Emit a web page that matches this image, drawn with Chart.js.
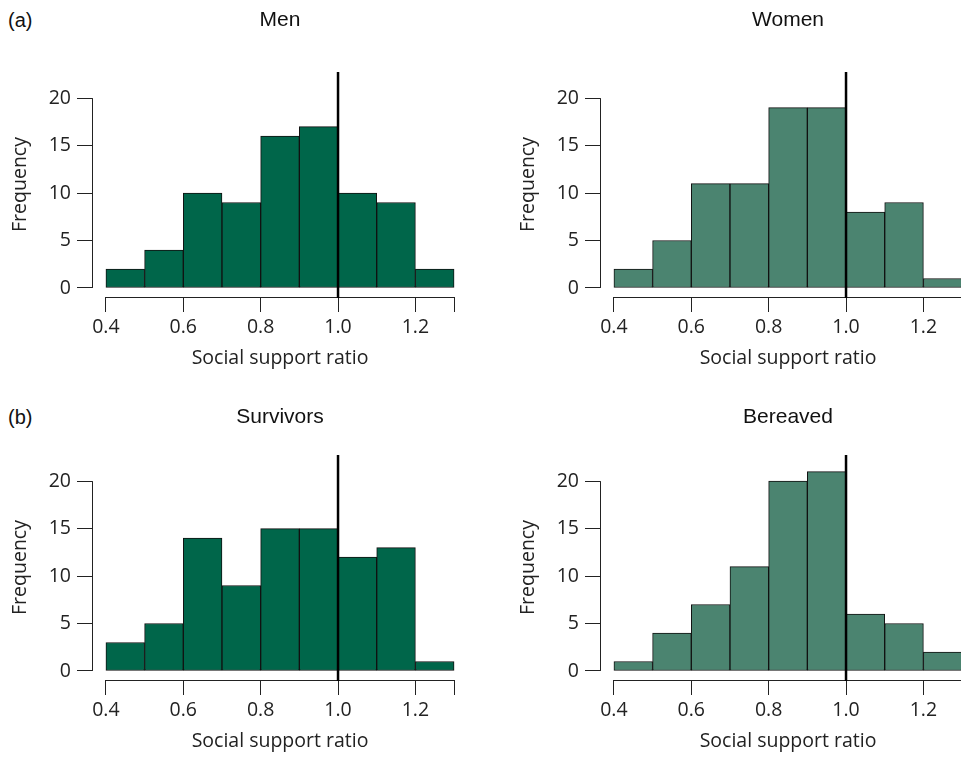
<!DOCTYPE html>
<html lang="en">
<head>
<meta charset="UTF-8">
<title>Social support ratio histograms</title>
<script src="https://cdn.jsdelivr.net/npm/chart.js"></script>
<style>
  html, body { margin: 0; padding: 0; background: #fff; overflow: hidden; }
  #page { position: relative; width: 961px; height: 760px; overflow: hidden; }
  .panel { position: absolute; width: 480px; height: 384px; }
  .tag { position: absolute; left: 8px; font: 20px "Liberation Sans", Arial, sans-serif; color: #111; line-height: 24px; }
</style>
</head>
<body>
<div id="page">
  <div class="tag" style="top:8px">(a)</div>
  <div class="tag" style="top:405px">(b)</div>
  <div class="panel" style="left:0;top:0"><canvas id="men" width="480" height="384"></canvas></div>
  <div class="panel" style="left:508px;top:0"><canvas id="women" width="480" height="384"></canvas></div>
  <div class="panel" style="left:0;top:383px"><canvas id="survivors" width="480" height="384"></canvas></div>
  <div class="panel" style="left:508px;top:383px"><canvas id="bereaved" width="480" height="384"></canvas></div>
</div>
<script>
// histogram bins (social support ratio), 0.1 wide
const binEdges = [0.4, 0.5, 0.6, 0.7, 0.8, 0.9, 1.0, 1.1, 1.2, 1.3];

// frequencies
const menCounts = [2, 4, 10, 9, 16, 17, 10, 9, 2];
const womenCounts = [2, 5, 11, 11, 19, 19, 8, 9, 1];
const survivorCounts = [3, 5, 14, 9, 15, 15, 12, 13, 1];
const bereavedCounts = [1, 4, 7, 11, 20, 21, 6, 5, 2];

// axes
const xTickValues = [0.4, 0.6, 0.8, 1.0, 1.2, 1.3];
const xTickLabels = ['0.4', '0.6', '0.8', '1.0', '1.2', ''];
const yTickValues = [0, 5, 10, 15, 20];
const refValue = 1.0;

const darkGreen = '#00664a';
const lightGreen = '#4b8470';
const ink = '#222';
const tickFont = { family: '"Open Sans", "DejaVu Sans", sans-serif', size: 19.5 };

// R-style detached axis lines + the vertical line at ratio 1.0
const rAxes = {
  id: 'rAxes',
  afterDatasetsDraw(chart) {
    const { ctx, chartArea, scales: { x, y } } = chart;
    ctx.save();
    ctx.strokeStyle = ink;
    ctx.lineWidth = 1;
    ctx.beginPath();
    const ax = Math.round(chartArea.left) + 0.5;
    ctx.moveTo(ax, y.getPixelForValue(yTickValues[0]));
    ctx.lineTo(ax, y.getPixelForValue(yTickValues[yTickValues.length - 1]));
    const ay = Math.round(chartArea.bottom) + 0.5;
    ctx.moveTo(x.getPixelForValue(binEdges[0]), ay);
    ctx.lineTo(x.getPixelForValue(binEdges[binEdges.length - 1]), ay);
    ctx.stroke();

    const rx = x.getPixelForValue(refValue);
    ctx.strokeStyle = '#000';
    ctx.lineWidth = 2.5;
    ctx.beginPath();
    ctx.moveTo(rx, chartArea.top);
    ctx.lineTo(rx, chartArea.bottom + 1);
    ctx.stroke();
    ctx.restore();
  }
};

function histogram(id, title, counts, color, titleTop) {
  const points = counts.map((c, i) => ({ x: (binEdges[i] + binEdges[i + 1]) / 2, y: c }));
  return new Chart(document.getElementById(id), {
    type: 'bar',
    data: {
      datasets: [{
        data: points,
        backgroundColor: color,
        borderColor: '#111',
        borderWidth: 1,
        borderSkipped: false,
        barPercentage: 1,
        categoryPercentage: 1
      }]
    },
    options: {
      responsive: false,
      animation: false,
      layout: { padding: { left: 0, right: 12, top: 0, bottom: 0 } },
      plugins: {
        legend: { display: false },
        tooltip: { enabled: false },
        title: {
          display: true,
          text: title,
          fullSize: false,
          color: '#111',
          font: { family: '"Liberation Sans", Arial, sans-serif', size: 21, weight: 'normal' },
          padding: { top: titleTop, bottom: 72 - titleTop - 25.2 }
        }
      },
      scales: {
        x: {
          type: 'linear',
          offset: false,
          min: 0.364,
          max: 1.336,
          afterFit: s => { s.height = 87; },
          afterBuildTicks: s => { s.ticks = xTickValues.map(v => ({ value: v })); },
          border: { display: false },
          grid: { offset: false, drawOnChartArea: false, drawTicks: true, tickLength: 15, color: ink, lineWidth: 1 },
          ticks: {
            autoSkip: false,
            maxRotation: 0,
            padding: 4,
            color: ink,
            font: tickFont,
            callback: (v, i) => xTickLabels[i]
          },
          title: { display: true, text: 'Social support ratio', color: ink, font: tickFont, padding: { top: 0, bottom: 14 } }
        },
        y: {
          min: -0.95,
          max: 22.75,
          afterFit: s => { s.width = 92; },
          afterBuildTicks: s => { s.ticks = yTickValues.map(v => ({ value: v })); },
          border: { display: false },
          grid: { drawOnChartArea: false, drawTicks: true, tickLength: 15, color: ink, lineWidth: 1 },
          ticks: { padding: 6, color: ink, font: tickFont, callback: v => String(v) },
          title: { display: true, text: 'Frequency', color: ink, font: tickFont, padding: { top: 9, bottom: 0 } }
        }
      }
    },
    plugins: [rAxes]
  });
}

histogram('men', 'Men', menCounts, darkGreen, 7.4);
histogram('women', 'Women', womenCounts, lightGreen, 7.4);
histogram('survivors', 'Survivors', survivorCounts, darkGreen, 21.4);
histogram('bereaved', 'Bereaved', bereavedCounts, lightGreen, 21.4);
</script>
</body>
</html>
